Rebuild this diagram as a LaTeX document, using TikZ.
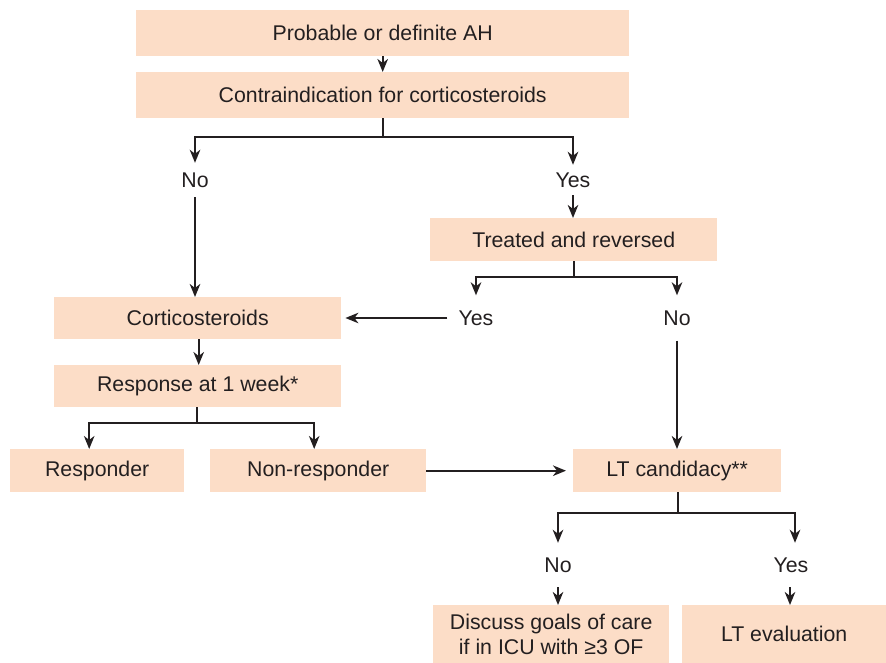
\documentclass[tikz,border=0pt]{standalone}
\usepackage{fontspec}
\setmainfont{Liberation Sans}
\usetikzlibrary{arrows.meta}
\definecolor{boxfill}{RGB}{252,221,199}
\definecolor{ink}{RGB}{35,31,32}
\begin{document}
\begin{tikzpicture}[x=1pt,y=-1pt,
  font=\fontsize{21.3}{25.5}\selectfont,
  every node/.style={text=ink},
  box/.style={fill=boxfill, inner sep=0pt, anchor=north west},
  lbl/.style={inner sep=0pt, minimum height=#1},
  lbl/.default=34,
  wire/.style={draw=ink, line width=2.1pt},
  arr/.style={wire, -{Stealth[length=13pt,width=10.5pt,inset=4pt]}}]
\useasboundingbox (0,0) rectangle (886,663);

% boxes
\node[box, minimum width=493, minimum height=46] (b1) at (136,10) {Probable or definite AH};
\node[box, minimum width=493, minimum height=46] (b2) at (136,72) {Contraindication for corticosteroids};
\node[box, minimum width=287, minimum height=43] (tr) at (430,218) {Treated and reversed};
\node[box, minimum width=287, minimum height=42] (cs) at (54,297) {Corticosteroids};
\node[box, minimum width=287, minimum height=42] (rw) at (54,365) {Response at 1 week*};
\node[box, minimum width=174, minimum height=43] (rs) at (10,449) {Responder};
\node[box, minimum width=216, minimum height=43] (nr) at (210,449) {Non-responder};
\node[box, minimum width=208, minimum height=43] (lt) at (573,449) {LT candidacy**};
\node[box, minimum width=236, minimum height=58, align=center] (dg) at (433,605) {Discuss goals of care\\if in ICU with ≥3 OF};
\node[box, minimum width=204, minimum height=58] (le) at (682,605) {LT evaluation};

% branch labels
\node[lbl=34] (no1) at (195,180) {No};
\node[lbl=30] (yes1) at (573,180) {Yes};
\node[lbl=45, inner xsep=11pt] (yes2) at (476,318) {Yes};
\node[lbl=45] (no2) at (677,318) {No};
\node[lbl=44] (no3) at (558,565) {No};
\node[lbl=44] (yes3) at (791,565) {Yes};

% connectors
\draw[arr] (b1.south) -- (b2.north);
\draw[wire] (b2.south) -- ++(0,19) coordinate (j1);
\draw[arr] (j1) -| (no1.north);
\draw[arr] (j1) -| (yes1.north);
\draw[arr] (no1.south) -- (no1.south |- cs.north);
\draw[arr] (yes1.south) -- (yes1.south |- tr.north);
\draw[wire] (tr.south) -- ++(0,16) coordinate (j2);
\draw[arr] (j2) -| (yes2.north);
\draw[arr] (j2) -| (no2.north);
\draw[arr] (yes2.west) -- ([xshift=4pt]yes2.west -| cs.east);
\draw[arr] (no2.south) -- (no2.south |- lt.north);
\draw[arr] ([xshift=1pt]cs.south) -- ([xshift=1pt]rw.north);
\draw[wire] ([xshift=-1pt]rw.south) -- ++(0,16) coordinate (j3);
\draw[arr] (j3) -| ([xshift=-8pt]rs.north);
\draw[arr] (j3) -| ([xshift=-4pt]nr.north);
\draw[arr] (nr.east) -- ([xshift=-7pt]lt.west);
\draw[wire] ([xshift=1pt]lt.south) -- ++(0,21) coordinate (j4);
\draw[arr] (j4) -| (no3.north);
\draw[arr] (j4) -| ([xshift=4pt]yes3.north);
\draw[arr] (no3.south) -- (no3.south |- dg.north);
\draw[arr] ([xshift=-1pt]yes3.south) -- ([xshift=-1pt]yes3.south |- le.north);
\end{tikzpicture}
\end{document}
